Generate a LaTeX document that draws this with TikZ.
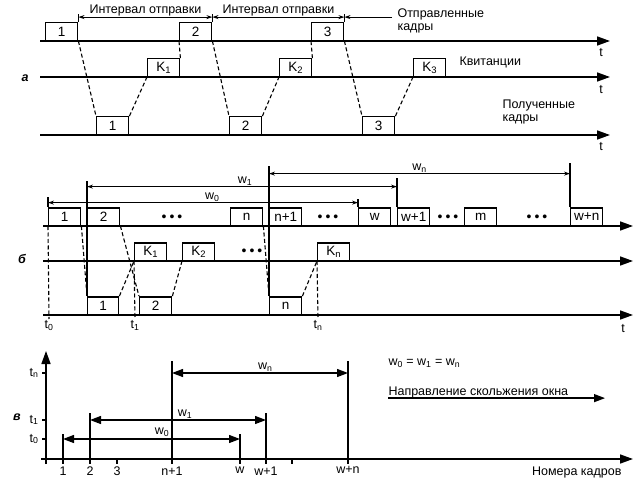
\documentclass[tikz,border=0pt]{standalone}
\usepackage{fontspec}
\setmainfont{Liberation Sans}
\usetikzlibrary{positioning}
\usetikzlibrary{arrows.meta}
\usetikzlibrary{calc}

\begin{document}
\begin{tikzpicture}[x=1pt, y=-1pt,
  frame/.style={draw, line width=1.4pt, anchor=south west, minimum width=32pt, minimum height=17.5pt, inner sep=0pt, font=\fontsize{13.5}{15}\selectfont},
  axis/.style={line width=1.6pt, -{Triangle[length=13pt,width=9pt]}},
  link/.style={line width=1.1pt, dash pattern=on 4pt off 2.5pt},
  tick/.style={line width=1.1pt},
  gap/.style={line width=1pt, {Stealth[length=6pt,width=4pt]}-{Stealth[length=6pt,width=4pt]}},
  win/.style={line width=1pt, {Stealth[length=6pt,width=4pt]}-{Stealth[length=6pt,width=4pt]}},
  bigwin/.style={line width=1.3pt, {Triangle[length=11pt,width=8pt]}-{Triangle[length=11pt,width=8pt]}},
  lbl/.style={font=\fontsize{12.5}{13}\selectfont},
  dots/.style={font=\fontsize{14}{15}\selectfont},
  part/.style={font=\fontsize{12.5}{14}\selectfont\bfseries\itshape}
]
\useasboundingbox (0,0) rectangle (642,489);

% а
\draw[axis] (40,41) -- (610,41);
\draw[axis] (40,77) -- (610,77);
\draw[axis] (40,135) -- (610,135);
\node[lbl] at (601,53) {t};
\node[lbl] at (601,90) {t};
\node[lbl] at (601,147) {t};
\node[part] (pa) at (25,78) {а};

\node[frame] (s1) at (45,41) {1};
\node[frame] (s2) at (179,41) {2};
\node[frame] (s3) at (311,41) {3};
\node[frame] (k1) at (147,77) {K\textsubscript{1}};
\node[frame] (k2) at (279,77) {K\textsubscript{2}};
\node[frame] (k3) at (413,77) {K\textsubscript{3}};
\node[frame] (r1) at (96,135) {1};
\node[frame] (r2) at (229,135) {2};
\node[frame] (r3) at (362,135) {3};

\draw[link] (s1.south east) -- (r1.north west);
\draw[link] (r1.north east) -- (k1.south west);
\draw[link] (k1.north east) -- (s2.south west);
\draw[link] (s2.south east) -- (r2.north west);
\draw[link] (r2.north east) -- (k2.south west);
\draw[link] (k2.north east) -- (s3.south west);
\draw[link] (s3.south east) -- (r3.north west);
\draw[link] (r3.north east) -- (k3.south west);

\draw[tick] (s1.north east) -- ++(0,-8);
\draw[tick] (s2.north east) -- ++(0,-8);
\draw[tick] (s3.north east) -- ++(0,-8);
\draw[gap] ($(s1.north east)+(0,-5)$) -- node[lbl, above=-3pt]{Интервал отправки} ($(s2.north east)+(0,-5)$);
\draw[gap] ($(s2.north east)+(0,-5)$) -- node[lbl, above=-3pt]{Интервал отправки} ($(s3.north east)+(0,-5)$);

\node[lbl, align=left, anchor=west] (sent) at (394,21) {Отправленные\\кадры};
\node[lbl, anchor=west] (ack) at (456,62) {Квитанции};
\node[lbl, align=left, anchor=west] (recv) at (499,112) {Полученные\\кадры};
\coordinate (g3) at ($(s3.north east)+(0,-5)$);
\draw[line width=1pt, -{Stealth[length=6pt,width=4pt]}] ([xshift=-2pt]g3 -| sent.west) -- (g3);

% б
\draw[axis] (43,226) -- (633,226);
\draw[axis] (43,261) -- (633,261);
\draw[axis] (43,315) -- (633,315);
\node[lbl] at (623,329) {t};
\node[part] (pb) at (22,259) {б};

\node[frame] (b1) at (48,226) {1};
\node[frame] (b2) at (87,226) {2};
\node[dots] (d1) at (172,218) {\textbullet\hspace{3pt}\textbullet\hspace{3pt}\textbullet};
\node[frame] (bn) at (230,226) {n};
\node[frame] (bn1) at (269,226) {n+1};
\node[dots] (d2) at (328,218) {\textbullet\hspace{3pt}\textbullet\hspace{3pt}\textbullet};
\node[frame] (bw) at (358,226) {w};
\node[frame] (bw1) at (397,226) {w+1};
\node[dots] (d3) at (448,218) {\textbullet\hspace{3pt}\textbullet\hspace{3pt}\textbullet};
\node[frame] (bm) at (464,226) {m};
\node[dots] (d4) at (537,218) {\textbullet\hspace{3pt}\textbullet\hspace{3pt}\textbullet};
\node[frame] (bwn) at (570,226) {w+n};

\node[frame] (q1) at (134,261) {K\textsubscript{1}};
\node[frame] (q2) at (182,261) {K\textsubscript{2}};
\node[dots] (d5) at (252,252) {\textbullet\hspace{3pt}\textbullet\hspace{3pt}\textbullet};
\node[frame] (qn) at (317,261) {K\textsubscript{n}};

\node[frame, minimum width=31pt] (p1) at (87,315) {1};
\node[frame] (p2) at (139,315) {2};
\node[frame] (pn) at (269,315) {n};

\node[lbl, anchor=north, inner sep=1pt] (t0) at (49,319) {t\textsubscript{0}};
\node[lbl, anchor=north, inner sep=1pt] (t1) at (135,319) {t\textsubscript{1}};
\node[lbl, anchor=north, inner sep=1pt] (tn) at (318,319) {t\textsubscript{n}};

\draw[link] (b1.south east) -- (p1.north west);
\draw[link] (b2.south east) -- (p2.north west);
\draw[link] (p1.north east) -- (q1.south west);
\draw[link] (p2.north east) -- (q2.south west);
\draw[link] (bn.south east) -- (pn.north west);
\draw[link] (pn.north east) -- (qn.south west);
\draw[link] (b1.south west) -- (t0.north);
\draw[link] (q1.south west) -- (t1.north);
\draw[link] (qn.south west) -- (tn.north);

\draw[tick, line width=1.3pt] (p1.north west) -- ($(b2.north west)+(0,-26)$);
\draw[tick, line width=1.3pt] (pn.north west) -- ($(bn1.north west)+(0,-41)$);
\draw[tick] (b1.north west) -- ++(0,-10);
\draw[tick] (bw.north west) -- ++(0,-8);
\draw[tick] (bw1.north west) -- ++(0,-29);
\draw[tick] (bwn.north west) -- ++(0,-44);

\draw[win] ($(b1.north west)+(0,-4.5)$) -- node[lbl, above=-2.5pt, pos=0.53]{w\textsubscript{0}} ($(bw.north west)+(0,-4.5)$);
\draw[win] ($(b2.north west)+(0,-20.5)$) -- node[lbl, above=-2.5pt, pos=0.51]{w\textsubscript{1}} ($(bw1.north west)+(0,-20.5)$);
\draw[win] ($(bn1.north west)+(0,-33.5)$) -- node[lbl, above=-2.5pt]{w\textsubscript{n}} ($(bwn.north west)+(0,-33.5)$);

% в
\draw[axis] (46,464) -- (46,351);
\draw[axis] (41,459) -- (633,459);
\node[part] (pc) at (17,417) {в};

\node[lbl, anchor=east] (ytn) at (42,373) {t\textsubscript{n}};
\node[lbl, anchor=east] (yt1) at (42,420) {t\textsubscript{1}};
\node[lbl, anchor=east] (yt0) at (42,439) {t\textsubscript{0}};
\draw[tick] (ytn.east) -- (46,373);
\draw[tick] (yt1.east) -- (46,420);
\draw[tick] (yt0.east) -- (46,439);

\coordinate (a1) at (63,459);
\coordinate (a2) at (90,459);
\coordinate (a3) at (117,459);
\coordinate (an1) at (172,459);
\coordinate (aw) at (240,459);
\coordinate (aw1) at (266,459);
\coordinate (ax) at (292,459);
\coordinate (awn) at (348,459);

\node[lbl, below=4pt of a1] (x1) {1};
\node[lbl, below=4pt of a2] (x2) {2};
\node[lbl, below=4pt of a3] (x3) {3};
\node[lbl, below=4pt of an1] (xn1) {n+1};
\node[lbl, below=4pt of aw] (xw) {w};
\node[lbl, below=4pt of aw1] (xw1) {w+1};
\node[lbl, below=4pt of awn] (xwn) {w+n};
\foreach \c in {a1,a2,a3,an1,aw,aw1,ax,awn}
  \draw[tick] (\c) -- ++(0,5);

\draw[tick] (a1) -- ++(0,-25);
\draw[tick] (aw) -- ++(0,-25);
\draw[tick] (a2) -- ++(0,-46);
\draw[tick] (aw1) -- ++(0,-46);
\draw[tick] (an1) -- ++(0,-98);
\draw[tick] (awn) -- ++(0,-98);

\draw[bigwin] ($(a1)+(0,-20)$) -- node[lbl, above=-2pt, pos=0.56]{w\textsubscript{0}} ($(aw)+(0,-20)$);
\draw[bigwin] ($(a2)+(0,-39)$) -- node[lbl, above=-2pt, pos=0.54]{w\textsubscript{1}} ($(aw1)+(0,-39)$);
\draw[bigwin] ($(an1)+(0,-86)$) -- node[lbl, above=-2pt, pos=0.53]{w\textsubscript{n}} ($(awn)+(0,-86)$);

\node[lbl, anchor=west] (eq) at (385,363) {w\textsubscript{0} = w\textsubscript{1} = w\textsubscript{n}};
\node[lbl, anchor=west] (dir) at (385,392) {Направление скольжения окна};
\draw[line width=1.3pt, -{Triangle[length=11pt,width=8pt]}] ([shift={(3,-3)}]dir.south west) -- ++(217,0);
\node[lbl, anchor=east] (nums) at (625,472) {Номера кадров};

\end{tikzpicture}
\end{document}
